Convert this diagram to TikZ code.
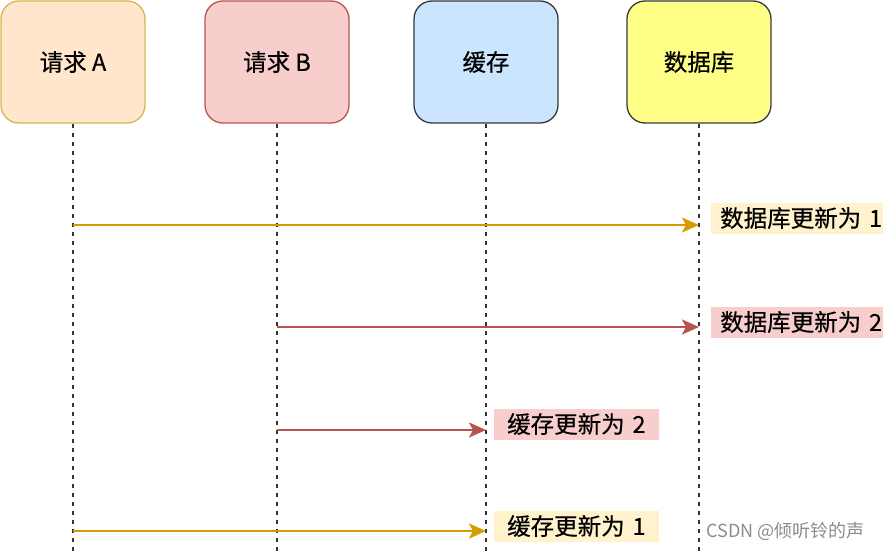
\documentclass[tikz,border=0pt]{standalone}
\usepackage{fontspec}
\setmainfont{Noto Sans CJK SC}[FakeBold=0.4]
\usetikzlibrary{arrows.meta}
\definecolor{reqAfill}{HTML}{FFE6CC}
\definecolor{reqAline}{HTML}{D6B656}
\definecolor{reqBfill}{HTML}{F8CECC}
\definecolor{reqBline}{HTML}{B85450}
\definecolor{cachefill}{HTML}{CCE5FF}
\definecolor{dbfill}{HTML}{FFFF88}
\definecolor{boxline}{HTML}{36393D}
\definecolor{goldline}{HTML}{D79B00}
\definecolor{tagyellow}{HTML}{FFF2CC}

\begin{document}
\begin{tikzpicture}[x=1pt, y=-1pt, every node/.style={font=\fontsize{23.5}{28}\selectfont},
	actor/.style={draw, line width=1.3pt, rounded corners=18pt, minimum width=144pt, minimum height=122pt},
	life/.style={draw=black!80, line width=1.6pt, dash pattern=on 4pt off 5pt},
	msg/.style={line width=2.6pt, -{Stealth[length=17pt, width=15pt, inset=4pt]}},
	tag/.style={anchor=west, minimum height=31pt, inner ysep=0pt, inner xsep=0pt, text width=#1, align=left}]
	\useasboundingbox (0,0) rectangle (893,551);
	% participants
	\node[actor, fill=reqAfill, draw=reqAline] (reqA) at (73,62) {请求 A};
	\node[actor, fill=reqBfill, draw=reqBline] (reqB) at (277,62) {请求 B};
	\node[actor, fill=cachefill, draw=boxline] (cache) at (486,62) {缓存};
	\node[actor, fill=dbfill, draw=boxline] (db) at (699,62) {数据库};
	% lifelines
	\foreach \n in {reqA, reqB, cache, db} {
		\coordinate (\n-end) at (\n |- 0,551);
		\draw[life] (\n.south) -- (\n-end);
	}
	% messages
	\coordinate (a1) at (reqA |- 0,225);
	\coordinate (d1) at (db |- 0,225);
	\coordinate (b2) at (reqB |- 0,327);
	\coordinate (d2) at (db |- 0,327);
	\coordinate (b3) at (reqB |- 0,430);
	\coordinate (c3) at (cache |- 0,430);
	\coordinate (a4) at (reqA |- 0,531);
	\coordinate (c4) at (cache |- 0,531);
	\draw[msg, goldline] (a1) -- (d1);
	\draw[msg, reqBline] (b2) -- (d2);
	\draw[msg, reqBline] (b3) -- (c3);
	\draw[msg, goldline] (a4) -- (c4);
	% labels
	\node[tag=172pt, fill=tagyellow] (t1) at (711,218) {\hspace*{9pt}数据库更新为 1};
	\node[tag=172pt, fill=reqBfill] (t2) at (711,322) {\hspace*{9pt}数据库更新为 2};
	\node[tag=165pt, fill=reqBfill] (t3) at (494,424) {\hspace*{13pt}缓存更新为 2};
	\node[tag=165pt, fill=tagyellow] (t4) at (494,526) {\hspace*{13pt}缓存更新为 1};
	\node[anchor=west, text=black!45, font=\fontsize{18}{22}\selectfont\addfontfeature{FakeBold=0}] (mark) at (703,531) {CSDN @倾听铃的声};
\end{tikzpicture}
\end{document}
